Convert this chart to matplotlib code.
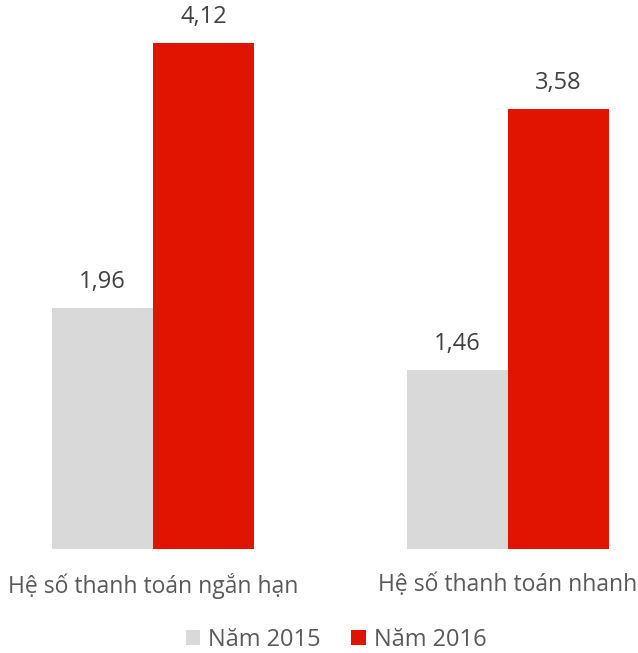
import matplotlib
matplotlib.use("Agg")
import matplotlib.pyplot as plt
import numpy as np

categories = ["Hệ số thanh toán ngắn hạn", "Hệ số thanh toán nhanh"]
series_names = ["Năm 2015", "Năm 2016"]
values_2015 = [1.96, 1.46]
values_2016 = [4.12, 3.58]
value_labels_2015 = ["1,96", "1,46"]
value_labels_2016 = ["4,12", "3,58"]

plt.rcParams['font.family'] = ['Open Sans', 'DejaVu Sans']

W, H = 638, 653
fig = plt.figure(figsize=(W / 100, H / 100), dpi=100)
ax = fig.add_axes([0, (H - 549) / H, 1, 549 / H])

x = np.arange(len(categories))
bw = 101 / 355
gray = "#D9D9D9"
red = "#E01400"
b1 = ax.bar(x - bw / 2, values_2015, bw, color=gray, label=series_names[0])
b2 = ax.bar(x + bw / 2, values_2016, bw, color=red, label=series_names[1])

for bars, labs in ((b1, value_labels_2015), (b2, value_labels_2016)):
    for rect, lab in zip(bars, labs):
        ax.annotate(lab, (rect.get_x() + rect.get_width() / 2, rect.get_height()),
                    xytext=(0, 10), textcoords="offset points", ha="center", va="bottom",
                    fontsize=17, color="#404040")

ax.set_xlim(-153 / 355, (638 - 153) / 355)
ax.set_ylim(0, 549 / 122.8)
ax.set_xticks(x)
ax.set_xticklabels(categories, fontsize=16.5, color="#595959")
ax.tick_params(axis="x", length=0, pad=17)
ax.set_yticks([])
for s in ax.spines.values():
    s.set_visible(False)

fig.legend(handles=[b1, b2], labels=series_names, loc="center", bbox_to_anchor=(336 / W, 1 - 640 / H),
           ncol=2, frameon=False, fontsize=17, labelcolor="#595959", handlelength=0.6,
           handleheight=0.6, handletextpad=0.35, columnspacing=1.3)

fig.savefig("out.png", dpi=100)
